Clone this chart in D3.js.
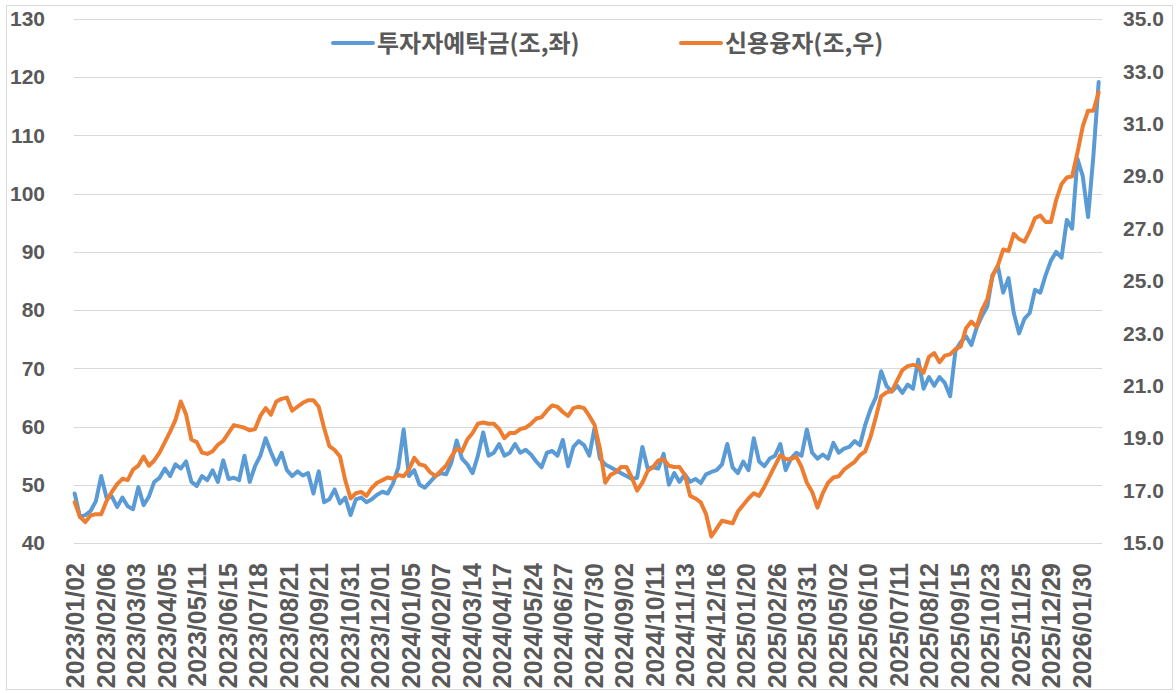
<!DOCTYPE html>
<html>
<head>
<meta charset="utf-8">
<script src="https://cdn.jsdelivr.net/npm/d3@7"></script>
<style>
  body { margin: 0; background: #fff; }
  svg { display: block; }
  .tick text { fill: #595959; font-family: "Liberation Sans", Arial, sans-serif; font-weight: bold; }
  .legend text { fill: #595959; font-family: "Noto Sans CJK KR", sans-serif; font-weight: bold; }
</style>
</head>
<body>
<div id="chart"></div>
<script>
// x축 라벨 (23거래일 간격)
var tickLabels = [
  "2023/01/02", "2023/02/06", "2023/03/03", "2023/04/05", "2023/05/11", "2023/06/15",
  "2023/07/18", "2023/08/21", "2023/09/21", "2023/10/31", "2023/12/01",
  "2024/01/05", "2024/02/07", "2024/03/14", "2024/04/17", "2024/05/24", "2024/06/27",
  "2024/07/30", "2024/09/02", "2024/10/11", "2024/11/13", "2024/12/16",
  "2025/01/20", "2025/02/26", "2025/03/31", "2025/05/02", "2025/06/10", "2025/07/11",
  "2025/08/12", "2025/09/15", "2025/10/23", "2025/11/25", "2025/12/29",
  "2026/01/30"
];

var leftTicks = [40, 50, 60, 70, 80, 90, 100, 110, 120, 130];
var rightTicks = [15, 17, 19, 21, 23, 25, 27, 29, 31, 33, 35];

// 투자자예탁금 (조, 좌축) - 4거래일마다
var deposit = [
  48.5, 44.5, 44.8, 45.5, 47.2, 51.5, 47.8, 48.0, 46.2, 47.8,
  46.3, 45.8, 49.6, 46.5, 48.0, 50.5, 51.2, 52.8, 51.5, 53.5,
  52.8, 54.0, 50.5, 49.8, 51.5, 50.8, 52.5, 50.5, 54.2, 51.0,
  51.2, 50.8, 55.0, 50.5, 53.2, 55.0, 58.0, 55.6, 53.5, 55.5,
  52.5, 51.5, 52.3, 51.6, 52.0, 48.5, 52.3, 47.0, 47.5, 49.2,
  46.8, 47.8, 44.8, 47.5, 47.8, 47.0, 47.5, 48.3, 48.8, 48.5,
  50.2, 53.0, 59.5, 51.5, 52.5, 50.0, 49.5, 50.5, 51.5, 52.0,
  51.8, 53.8, 57.6, 54.5, 53.5, 52.0, 55.0, 59.0, 55.0, 55.5,
  57.0, 55.0, 55.5, 57.0, 55.5, 56.0, 55.2, 54.0, 53.0, 55.5,
  55.8, 55.0, 57.7, 53.2, 56.5, 57.5, 56.8, 55.0, 59.8, 54.5,
  53.5, 53.0, 52.5, 52.0, 51.5, 51.0, 51.2, 56.5, 52.8, 53.0,
  52.8, 55.3, 50.0, 52.0, 50.5, 51.8, 50.5, 51.0, 50.3, 51.8,
  52.2, 52.5, 53.5, 57.0, 53.0, 52.0, 54.0, 52.5, 58.0, 54.0,
  53.2, 54.5, 55.0, 57.0, 52.5, 54.5, 55.5, 55.0, 59.5, 55.5,
  54.5, 55.2, 54.5, 57.2, 55.5, 56.2, 56.5, 57.5, 56.8, 60.3,
  63.0, 65.0, 69.5, 67.0, 66.0, 67.0, 65.8, 67.2, 66.5, 71.5,
  66.5, 68.5, 67.0, 68.5, 67.5, 65.2, 73.0, 74.5, 75.5, 74.0,
  77.0, 79.0, 80.6, 86.0, 87.5, 83.0, 85.5, 79.5, 76.0, 78.5,
  79.5, 83.5, 83.0, 86.0, 88.5, 90.0, 89.0, 95.5, 94.0, 106.0,
  103.0, 96.0, 106.5, 119.2
];

// 신용융자 (조, 우축) - 4거래일마다
var credit = [
  16.56, 16.0, 15.8, 16.05, 16.1, 16.1, 16.6, 16.95, 17.25, 17.45,
  17.4, 17.8, 17.95, 18.3, 17.95, 18.15, 18.45, 18.85, 19.25, 19.7,
  20.4, 19.9, 18.95, 18.85, 18.45, 18.4, 18.5, 18.75, 18.9, 19.2,
  19.5, 19.45, 19.4, 19.3, 19.35, 19.85, 20.15, 19.9, 20.4, 20.5,
  20.55, 20.05, 20.2, 20.35, 20.45, 20.45, 20.2, 19.4, 18.7, 18.55,
  18.3, 17.4, 16.7, 16.9, 16.95, 16.8, 17.1, 17.3, 17.4, 17.5,
  17.45, 17.6, 17.55, 17.8, 18.25, 18.0, 17.95, 17.7, 17.55, 17.75,
  17.95, 18.3, 18.6, 18.5, 18.95, 19.2, 19.55, 19.6, 19.55, 19.55,
  19.35, 19.0, 19.2, 19.2, 19.35, 19.4, 19.55, 19.75, 19.8, 20.05,
  20.25, 20.2, 20.0, 19.85, 20.15, 20.2, 20.15, 19.85, 19.5, 18.6,
  17.3, 17.6, 17.7, 17.9, 17.9, 17.5, 17.0, 17.3, 17.75, 17.9,
  18.15, 18.2, 17.95, 17.9, 17.9, 17.6, 16.8, 16.7, 16.55, 16.1,
  15.25, 15.55, 15.85, 15.8, 15.75, 16.2, 16.45, 16.7, 16.9, 16.8,
  17.15, 17.55, 17.95, 18.35, 18.2, 18.2, 18.3, 17.9, 17.3, 16.95,
  16.35, 16.9, 17.3, 17.5, 17.55, 17.8, 17.95, 18.1, 18.35, 18.5,
  19.05, 19.8, 20.6, 20.75, 20.8, 21.2, 21.6, 21.75, 21.8, 21.75,
  21.5, 22.1, 22.25, 21.9, 22.15, 22.2, 22.4, 22.5, 23.2, 23.45,
  23.25, 23.9, 24.3, 25.2, 25.6, 26.2, 26.15, 26.8, 26.6, 26.5,
  26.9, 27.4, 27.5, 27.25, 27.25, 28.1, 28.7, 28.95, 29.0, 29.9,
  30.9, 31.5, 31.5, 32.2
];

var seriesNames = ["투자자예탁금(조,좌)", "신용융자(조,우)"];

function chart() {
  var _width = 1176, _height = 693,
    _plot = {left: 74, right: 1102, top: 19, bottom: 543},
    _nDays = 775,
    _labelStep = 23,
    _sampleStep = 4,
    _blue = "#5B9BD5",
    _orange = "#ED7D31",
    _svg;

  var x = d3.scaleLinear()
    .domain([0, _nDays - 1])
    .range([_plot.left + 0.66, _plot.right - 0.66]);

  var yLeft = d3.scaleLinear().domain([40, 130]).range([_plot.bottom, _plot.top]);
  var yRight = d3.scaleLinear().domain([15, 35]).range([_plot.bottom, _plot.top]);

  function render(id) {
    _svg = d3.select('#' + id).append("svg")
      .attr("width", _width)
      .attr("height", _height);

    // 외곽선
    _svg.append("rect")
      .attr("x", 6.5).attr("y", 5.5)
      .attr("width", 1166).attr("height", 684)
      .attr("fill", "none")
      .attr("stroke", "#d9d9d9");

    renderGrid();
    renderAxes();
    renderLines();
    renderLegend();
  }

  function renderGrid() {
    _svg.append("g")
      .attr("class", "grid")
      .selectAll("line")
      .data(leftTicks)
      .enter().append("line")
      .attr("x1", _plot.left)
      .attr("x2", _plot.right)
      .attr("y1", function (d) { return Math.round(yLeft(d)) + 0.5; })
      .attr("y2", function (d) { return Math.round(yLeft(d)) + 0.5; })
      .attr("stroke", "#d9d9d9")
      .attr("stroke-width", 1);
  }

  function renderAxes() {
    var left = _svg.append("g")
      .attr("transform", "translate(" + _plot.left + ",0)")
      .call(d3.axisLeft(yLeft).tickValues(leftTicks).tickSize(0).tickPadding(29));
    left.select(".domain").remove();
    left.selectAll("text").style("font-size", "21px");

    var right = _svg.append("g")
      .attr("transform", "translate(" + _plot.right + ",0)")
      .call(d3.axisRight(yRight).tickValues(rightTicks).tickSize(0).tickPadding(21)
        .tickFormat(d3.format(".1f")));
    right.select(".domain").remove();
    right.selectAll("text").style("font-size", "21px");

    var labelDays = tickLabels.map(function (d, i) { return i * _labelStep; });
    var bottom = _svg.append("g")
      .attr("transform", "translate(0," + _plot.bottom + ")")
      .call(d3.axisBottom(x).tickValues(labelDays).tickSize(0)
        .tickFormat(function (d, i) { return tickLabels[i]; }));
    bottom.select(".domain").remove();
    bottom.selectAll("text")
      .style("font-size", "25px")
      .style("text-anchor", "end")
      .attr("transform", "rotate(-90)")
      .attr("x", -20)
      .attr("y", 0)
      .attr("dy", "0.36em");
  }

  function renderLines() {
    var lineLeft = d3.line()
      .x(function (d, i) { return x(i * _sampleStep); })
      .y(function (d) { return yLeft(d); });

    var lineRight = d3.line()
      .x(function (d, i) { return x(i * _sampleStep); })
      .y(function (d) { return yRight(d); });

    _svg.append("path")
      .datum(deposit)
      .attr("d", lineLeft)
      .attr("fill", "none")
      .attr("stroke", _blue)
      .attr("stroke-width", 4)
      .attr("stroke-linejoin", "round")
      .attr("stroke-linecap", "round");

    _svg.append("path")
      .datum(credit)
      .attr("d", lineRight)
      .attr("fill", "none")
      .attr("stroke", _orange)
      .attr("stroke-width", 4)
      .attr("stroke-linejoin", "round")
      .attr("stroke-linecap", "round");
  }

  function renderLegend() {
    var items = [
      {name: seriesNames[0], color: _blue, x: 333},
      {name: seriesNames[1], color: _orange, x: 681}
    ];
    var g = _svg.append("g").attr("class", "legend");
    var item = g.selectAll("g").data(items).enter().append("g")
      .attr("transform", function (d) { return "translate(" + d.x + ",43)"; });
    item.append("line")
      .attr("x1", 0).attr("x2", 40)
      .attr("stroke", function (d) { return d.color; })
      .attr("stroke-width", 4)
      .attr("stroke-linecap", "round");
    item.append("text")
      .attr("x", 44)
      .attr("dy", "0.36em")
      .style("font-size", "24px")
      .text(function (d) { return d.name; });
  }

  return {render: render};
}

chart().render("chart");
</script>
</body>
</html>
